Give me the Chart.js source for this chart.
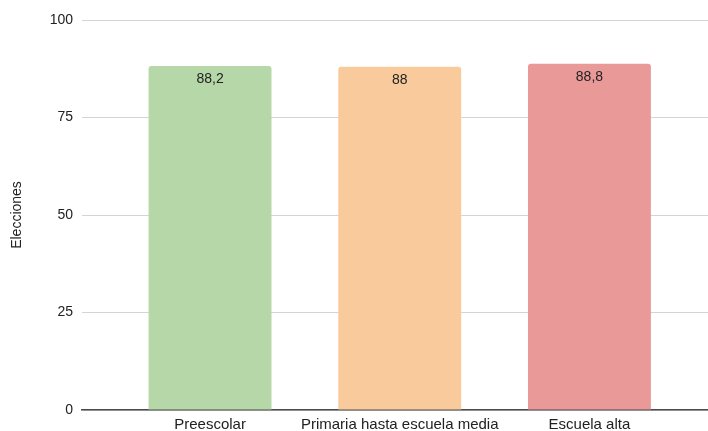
<!DOCTYPE html>
<html>
<head>
<meta charset="utf-8">
<script src="https://cdn.jsdelivr.net/npm/chart.js@4"></script>
<style>
  html, body { margin: 0; padding: 0; background: #ffffff; }
  #wrap { width: 708px; height: 431px; }
</style>
</head>
<body>
<div id="wrap"><canvas id="chart" width="708" height="431"></canvas></div>
<script>
// Nivel escolar y elecciones
const categories = ['Preescolar', 'Primaria hasta escuela media', 'Escuela alta'];
const values = [88.2, 88, 88.8];
const barColors = ['#b6d7a8', '#f9cb9c', '#ea9999'];
const yTicks = [0, 25, 50, 75, 100];

const FONT = 'Liberation Sans, Arial, Helvetica, sans-serif';

// Prints each value inside the top of its bar, with a decimal comma
const valueLabels = {
  id: 'valueLabels',
  afterDatasetsDraw(chart) {
    const ctx = chart.ctx;
    const meta = chart.getDatasetMeta(0);
    ctx.save();
    ctx.font = '14px ' + FONT;
    ctx.fillStyle = '#222222';
    ctx.textAlign = 'center';
    ctx.textBaseline = 'middle';
    meta.data.forEach((bar, i) => {
      const txt = String(values[i]).replace('.', ',');
      ctx.fillText(txt, bar.x, bar.y + 13);
    });
    ctx.restore();
  }
};

new Chart(document.getElementById('chart'), {
  type: 'bar',
  data: {
    datasets: [{
      data: categories.map((c, i) => ({ x: i, y: values[i] })),
      backgroundColor: barColors,
      borderWidth: 0,
      borderRadius: { topLeft: 3, topRight: 3, bottomLeft: 0, bottomRight: 0 },
      borderSkipped: 'start',
      categoryPercentage: 1,
      barPercentage: 0.648
    }]
  },
  options: {
    responsive: false,
    animation: false,
    devicePixelRatio: 1,
    layout: { padding: { top: 20, right: 0, bottom: 0, left: 0 } },
    plugins: {
      legend: { display: false },
      tooltip: { enabled: false }
    },
    scales: {
      x: {
        type: 'linear',
        offset: false,
        min: -0.675,
        max: 2.625,
        afterBuildTicks(scale) {
          scale.ticks = categories.map((c, i) => ({ value: i }));
        },
        afterFit(scale) { scale.height = 21; },
        grid: { display: false, drawTicks: false },
        border: { display: true, color: '#4a4a4a', width: 1.5 },
        ticks: {
          autoSkip: false,
          maxRotation: 0,
          padding: 6,
          color: '#222222',
          font: { family: FONT, size: 15 },
          callback: (v) => categories[v] ?? ''
        }
      },
      y: {
        min: 0,
        max: 100,
        afterBuildTicks(scale) {
          scale.ticks = yTicks.map(v => ({ value: v }));
        },
        afterFit(scale) { scale.width = 82; },
        grid: { color: '#d4d4d4', lineWidth: 1, drawTicks: false },
        border: { display: false },
        ticks: {
          padding: 9,
          color: '#222222',
          font: { family: FONT, size: 14 }
        },
        title: {
          display: true,
          text: 'Elecciones',
          color: '#222222',
          font: { family: FONT, size: 14 },
          padding: { top: 9, bottom: 0 }
        }
      }
    }
  },
  plugins: [valueLabels]
});
</script>
</body>
</html>
